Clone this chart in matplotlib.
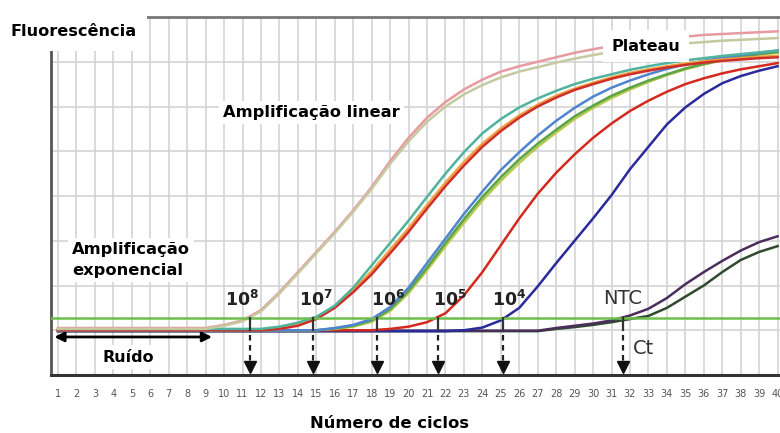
import matplotlib.pyplot as plt

# ciclos e fluorescencia (unidades da grelha, 0-8)
ciclos = list(range(1, 41))

f8_rosa = [1.05]*9 + [1.12, 1.22, 1.45, 1.85, 2.3, 2.75, 3.2, 3.68, 4.2, 4.78, 5.3, 5.75, 6.1, 6.38, 6.6, 6.78, 6.9, 7.0, 7.1, 7.2, 7.28, 7.35, 7.42, 7.47, 7.52, 7.56, 7.6, 7.62, 7.64, 7.66, 7.68]
f8_bege = [1.03]*9 + [1.1, 1.2, 1.42, 1.82, 2.27, 2.72, 3.17, 3.65, 4.16, 4.72, 5.22, 5.66, 6.0, 6.27, 6.48, 6.65, 6.78, 6.88, 6.98, 7.07, 7.15, 7.22, 7.28, 7.33, 7.37, 7.41, 7.44, 7.47, 7.49, 7.51, 7.53]

f7_teal = [1.03]*12 + [1.08, 1.17, 1.3, 1.55, 1.95, 2.45, 2.95, 3.45, 3.98, 4.5, 4.98, 5.4, 5.72, 5.98, 6.18, 6.35, 6.5, 6.62, 6.72, 6.82, 6.9, 6.97, 7.03, 7.08, 7.13, 7.17, 7.21, 7.25]
f7_laranja = [1.02]*12 + [1.05, 1.13, 1.27, 1.53, 1.9, 2.32, 2.8, 3.28, 3.8, 4.3, 4.76, 5.17, 5.51, 5.8, 6.04, 6.24, 6.4, 6.53, 6.65, 6.75, 6.83, 6.9, 6.96, 7.01, 7.05, 7.08, 7.11, 7.13]
f7_verm = [1.0]*12 + [1.03, 1.1, 1.25, 1.5, 1.85, 2.25, 2.72, 3.2, 3.72, 4.22, 4.68, 5.1, 5.45, 5.75, 6.0, 6.2, 6.37, 6.5, 6.62, 6.72, 6.8, 6.87, 6.93, 6.98, 7.02, 7.05, 7.08, 7.1]

f6_azul = [1.0]*15 + [1.05, 1.12, 1.25, 1.52, 1.95, 2.5, 3.05, 3.6, 4.1, 4.58, 4.98, 5.35, 5.68, 5.97, 6.22, 6.42, 6.58, 6.72, 6.84, 6.94, 7.02, 7.09, 7.15, 7.2, 7.25]
f6_verde = [1.0]*15 + [1.04, 1.1, 1.22, 1.47, 1.88, 2.4, 2.95, 3.48, 3.98, 4.42, 4.82, 5.17, 5.48, 5.78, 6.02, 6.24, 6.42, 6.58, 6.72, 6.85, 6.95, 7.04, 7.11, 7.17, 7.22]
f6_amar = [1.0]*15 + [1.03, 1.08, 1.19, 1.43, 1.83, 2.34, 2.88, 3.4, 3.9, 4.34, 4.74, 5.1, 5.42, 5.72, 5.97, 6.19, 6.38, 6.55, 6.7, 6.83, 6.94, 7.03, 7.1, 7.16, 7.2]

f5_verm = [1.0]*18 + [1.03, 1.08, 1.18, 1.38, 1.78, 2.3, 2.9, 3.5, 4.05, 4.52, 4.93, 5.3, 5.62, 5.9, 6.13, 6.33, 6.5, 6.63, 6.74, 6.83, 6.9, 6.97]
f4_azul = [0.98]*22 + [1.0, 1.06, 1.22, 1.5, 1.98, 2.5, 3.0, 3.5, 4.02, 4.6, 5.1, 5.6, 5.98, 6.28, 6.52, 6.68, 6.8, 6.9]

ntc_roxo = [0.99]*27 + [1.05, 1.1, 1.15, 1.22, 1.33, 1.48, 1.72, 2.03, 2.3, 2.55, 2.78, 2.97, 3.1]
ntc_verde = [0.98]*27 + [1.03, 1.07, 1.12, 1.18, 1.25, 1.32, 1.5, 1.75, 2.0, 2.3, 2.57, 2.75, 2.88]

limiar = 1.27
ct_valores = [11.4, 14.8, 18.3, 21.6, 25.1, 31.6]
ct_rotulos = ['$\\mathbf{10^8}$', '$\\mathbf{10^7}$', '$\\mathbf{10^6}$', '$\\mathbf{10^5}$', '$\\mathbf{10^4}$']
rotulo_x = [10.95, 14.98, 18.9, 22.25, 25.45]

series = [
    (ntc_verde, '#2f4a2c'), (ntc_roxo, '#4b2d5c'),
    (f4_azul, '#2b2a9c'), (f5_verm, '#d42a1e'),
    (f6_amar, '#b9c94e'), (f6_verde, '#5aa44a'), (f6_azul, '#4f84cf'),
    (f7_laranja, '#f0a040'), (f7_verm, '#cf2f2a'), (f7_teal, '#4fb39e'),
    (f8_rosa, '#e79aa0'), (f8_bege, '#c5c9a0'),
]

fig = plt.figure(figsize=(7.8, 4.33), dpi=100)
ax = fig.add_axes([51/780, 1 - 375/433, 1 - 51/780, (375 - 17)/433])
ax.set_xlim(0.62, 40.13)
ax.set_ylim(0, 8)

for c in ciclos:
    ax.axvline(c, color='#d4d4d4', lw=1.2, zorder=0)
for y in range(1, 8):
    ax.axhline(y, color='#d4d4d4', lw=1.2, zorder=0)

for vals, cor in series:
    ax.plot(ciclos, vals, color=cor, lw=1.8, zorder=3)

ax.axhline(limiar, color='#6cbf4c', lw=1.8, zorder=4)

for ct in ct_valores:
    ax.plot([ct, ct], [limiar, 1.0], color='#333333', lw=1.6, zorder=5)
    ax.plot([ct, ct], [0.9, 0.3], color='#222222', lw=1.6, ls=(0, (2.5, 2)), zorder=5)
    ax.plot(ct, 0.17, marker='v', color='#111111', ms=9, zorder=5)

for xr, rot in zip(rotulo_x, ct_rotulos):
    ax.text(xr, 1.68, rot, ha='center', va='center', fontsize=12.5, color='#222222', zorder=6)
ax.text(31.6, 1.7, 'NTC', ha='center', va='center', fontsize=14, color='#333333', zorder=6)
ax.text(32.75, 0.6, 'Ct', ha='center', va='center', fontsize=14, color='#333333', zorder=6)

ax.annotate('', xy=(0.65, 0.85), xytext=(9.5, 0.85),
            arrowprops=dict(arrowstyle='<|-|>', color='black', lw=2, mutation_scale=14), zorder=6)

caixa = dict(facecolor='white', edgecolor='none', pad=3)
ax.text(4.8, 0.4, 'Ruído', ha='center', va='center', fontsize=11.5, fontweight='bold', bbox=caixa, zorder=6)
ax.text(1.76, 2.57, 'Amplificação\nexponencial', ha='left', va='center', fontsize=11.7, fontweight='bold',
        linespacing=1.45, bbox=caixa, zorder=6)
ax.text(9.95, 5.87, 'Amplificação linear', ha='left', va='center', fontsize=11.7, fontweight='bold',
        bbox=caixa, zorder=6)
ax.text(32.87, 7.35, 'Plateau', ha='center', va='center', fontsize=11.5, fontweight='bold',
        bbox=dict(facecolor='white', edgecolor='none', pad=6), zorder=6)

ax.spines['right'].set_visible(False)
ax.spines['left'].set_color('#555555')
ax.spines['left'].set_linewidth(2)
ax.spines['bottom'].set_color('#333333')
ax.spines['bottom'].set_linewidth(2.2)
ax.spines['top'].set_color('#777777')
ax.spines['top'].set_linewidth(2)

ax.set_xticks(ciclos)
ax.set_xticklabels([str(c) for c in ciclos], fontsize=7, color='#555555')
ax.set_yticks([])
ax.tick_params(axis='x', length=0, pad=10)

fig.text(10/780, 1 - 32/433, 'Fluorescência', ha='left', va='center', fontsize=11.6, fontweight='bold',
         bbox=dict(facecolor='white', edgecolor='none', pad=8))
fig.text(389/780, 1 - 424/433, 'Número de ciclos', ha='center', va='center', fontsize=11.8, fontweight='bold')

fig.savefig('out.png', dpi=100)
